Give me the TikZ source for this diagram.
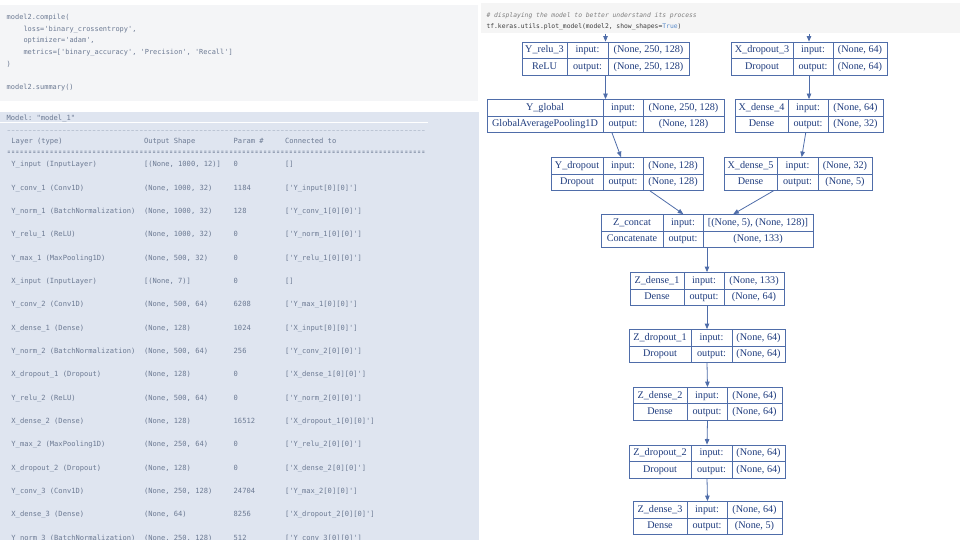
\documentclass[tikz,border=0pt]{standalone}
\usepackage{fontspec}
\usepackage{graphicx}
\setmainfont{Liberation Serif}
\setmonofont{DejaVu Sans Mono}
\usetikzlibrary{arrows.meta}
\definecolor{cellbg}{HTML}{F4F5F7}
\definecolor{rcellbg}{HTML}{F5F5F5}
\definecolor{tablebg}{HTML}{DFE5F0}
\definecolor{codetext}{HTML}{6C7A93}
\definecolor{boxline}{HTML}{4F6DA9}
\definecolor{boxtext}{HTML}{1F3C7E}
\definecolor{commentgray}{HTML}{7E7E7E}
\definecolor{codedark}{HTML}{3C3C3C}
\definecolor{kwblue}{HTML}{5A8CCB}
\ExplSyntaxOn
\cs_new:Npn \myrepeat #1#2 { \prg_replicate:nn {#1} {#2} }
\ExplSyntaxOff
\newcommand\gapchar[1]{\makebox[0.602em]{\scalebox{0.62}[1]{#1}}}
\tikzset{
  mono/.style={font=\ttfamily\fontsize{7.1}{8}\selectfont, text=codetext, inner sep=0pt, anchor=base west},
  code/.style={font=\ttfamily\fontsize{6.95}{8}\selectfont, text=codetext, inner sep=0pt, anchor=base west},
  rcode/.style={font=\ttfamily\fontsize{6.35}{8}\selectfont, text=codedark, inner sep=0pt, anchor=base west},
  kbox/.style={draw=boxline, line width=0.8pt, fill=white, inner sep=0pt},
  kline/.style={draw=boxline, line width=0.8pt},
  ktext/.style={font=\fontsize{10.2}{12}\selectfont, text=boxtext, inner sep=0pt, text height=7pt, text depth=1.8pt},
  karrow/.style={draw=boxline, line width=0.8pt, -{Triangle[length=5.5pt,width=4.5pt]}},
}
\def\kgeom#1,#2,#3,#4,#5,#6\relax{\def\kxl{#1}\def\kda{#2}\def\kdb{#3}\def\kxr{#4}\def\kyt{#5}\def\kyb{#6}}
\newcommand\kerasbox[6]{%
  \kgeom#2\relax
  \pgfmathsetmacro\kw{\kxr-\kxl}%
  \pgfmathsetmacro\kh{\kyb-\kyt}%
  \pgfmathsetmacro\kcx{(\kxl+\kxr)/2}%
  \pgfmathsetmacro\kcy{(\kyt+\kyb)/2}%
  \pgfmathsetmacro\kca{(\kxl+\kda)/2}%
  \pgfmathsetmacro\kcb{(\kda+\kdb)/2}%
  \pgfmathsetmacro\kcc{(\kdb+\kxr)/2}%
  \pgfmathsetmacro\kra{(\kyt+\kcy)/2}%
  \pgfmathsetmacro\krb{(\kcy+\kyb)/2}%
  \node[kbox, minimum width=\kw pt, minimum height=\kh pt] (#1) at (\kcx,\kcy) {};
  \draw[kline] (\kda,\kyt) -- (\kda,\kyb) (\kdb,\kyt) -- (\kdb,\kyb) (\kxl,\kcy) -- (\kxr,\kcy);
  \node[ktext] (#1-name) at (\kca,\kra) {#3};
  \node[ktext] (#1-type) at (\kca,\krb) {#4};
  \node[ktext] (#1-inl) at (\kcb,\kra) {input:};
  \node[ktext] (#1-outl) at (\kcb,\krb) {output:};
  \node[ktext] (#1-in) at (\kcc,\kra) {#5};
  \node[ktext] (#1-out) at (\kcc,\krb) {#6};
}
\newcommand\srow[5]{%
  \pgfmathsetmacro\ry{164.3+23.33*#1+2.5}%
  \node[mono] (r#1a) at (11.27,\ry) {#2};
  \node[mono] (r#1b) at (143.8,\ry) {#3};
  \node[mono] (r#1c) at (233.5,\ry) {#4};
  \node[mono] (r#1d) at (284.8,\ry) {#5};
}
\begin{document}
\begin{tikzpicture}[x=1pt,y=-1pt]
\useasboundingbox (0,0) rectangle (960,540);
\clip (0,0) rectangle (960,540);
% backgrounds
\fill[cellbg] (0,5) rectangle (478,101);
\fill[tablebg] (0,112) rectangle (479,540);
\fill[rcellbg] (481,3) rectangle (960,33);
\draw[white, line width=1.3pt] (0,122.5) -- (428,122.5);
% left code cell
\node[code] (c1) at (6.5,19.5) {model2.compile(};
\node[code] (c2) at (23.3,31.25) {loss='binary\_crossentropy',};
\node[code] (c3) at (23.3,43) {optimizer='adam',};
\node[code] (c4) at (23.3,54.75) {metrics=['binary\_accuracy', 'Precision', 'Recall']};
\node[code] (c5) at (6.5,66.5) {)};
\node[code] (c6) at (6.5,90) {model2.summary()};
% summary table
\node[mono] (m0) at (6.5,120.1) {Model: "model\_1"};
\node[mono] (m1) at (6.5,130) {\myrepeat{98}{\gapchar{\_}}};
\node[mono] (h1) at (11.27,143.5) {Layer (type)};
\node[mono] (h2) at (143.8,143.5) {Output Shape};
\node[mono] (h3) at (233.5,143.5) {Param \#};
\node[mono] (h4) at (284.8,143.5) {Connected to};
\node[mono] (m2) at (6.5,154.8) {\myrepeat{98}{\gapchar{=}}};
\srow{0}{Y\_input (InputLayer)}{[(None, 1000, 12)]}{0}{[]}
\srow{1}{Y\_conv\_1 (Conv1D)}{(None, 1000, 32)}{1184}{['Y\_input[0][0]']}
\srow{2}{Y\_norm\_1 (BatchNormalization)}{(None, 1000, 32)}{128}{['Y\_conv\_1[0][0]']}
\srow{3}{Y\_relu\_1 (ReLU)}{(None, 1000, 32)}{0}{['Y\_norm\_1[0][0]']}
\srow{4}{Y\_max\_1 (MaxPooling1D)}{(None, 500, 32)}{0}{['Y\_relu\_1[0][0]']}
\srow{5}{X\_input (InputLayer)}{[(None, 7)]}{0}{[]}
\srow{6}{Y\_conv\_2 (Conv1D)}{(None, 500, 64)}{6208}{['Y\_max\_1[0][0]']}
\srow{7}{X\_dense\_1 (Dense)}{(None, 128)}{1024}{['X\_input[0][0]']}
\srow{8}{Y\_norm\_2 (BatchNormalization)}{(None, 500, 64)}{256}{['Y\_conv\_2[0][0]']}
\srow{9}{X\_dropout\_1 (Dropout)}{(None, 128)}{0}{['X\_dense\_1[0][0]']}
\srow{10}{Y\_relu\_2 (ReLU)}{(None, 500, 64)}{0}{['Y\_norm\_2[0][0]']}
\srow{11}{X\_dense\_2 (Dense)}{(None, 128)}{16512}{['X\_dropout\_1[0][0]']}
\srow{12}{Y\_max\_2 (MaxPooling1D)}{(None, 250, 64)}{0}{['Y\_relu\_2[0][0]']}
\srow{13}{X\_dropout\_2 (Dropout)}{(None, 128)}{0}{['X\_dense\_2[0][0]']}
\srow{14}{Y\_conv\_3 (Conv1D)}{(None, 250, 128)}{24704}{['Y\_max\_2[0][0]']}
\srow{15}{X\_dense\_3 (Dense)}{(None, 64)}{8256}{['X\_dropout\_2[0][0]']}
\srow{16}{Y\_norm\_3 (BatchNormalization)}{(None, 250, 128)}{512}{['Y\_conv\_3[0][0]']}
% right code cell
\node[rcode, text=commentgray, font=\ttfamily\itshape\fontsize{6.35}{8}\selectfont] (rc1) at (486.3,17.5) {\# displaying the model to better understand its process};
\node[rcode] (rc2) at (486.3,28.9) {tf.keras.utils.plot\_model(model2, show\_shapes={\color{kwblue}True})};
% model diagram
\kerasbox{Yrelu3}{522,567,608,689,42,75}{Y\_relu\_3}{ReLU}{(None, 250, 128)}{(None, 250, 128)}
\kerasbox{Xdrop3}{731,793,833,887,42,75}{X\_dropout\_3}{Dropout}{(None, 64)}{(None, 64)}
\kerasbox{Yglobal}{487,603,643,724,99.5,132.5}{Y\_global}{GlobalAveragePooling1D}{(None, 250, 128)}{(None, 128)}
\kerasbox{Xdense4}{735,788,828,883,99.5,132.5}{X\_dense\_4}{Dense}{(None, 64)}{(None, 32)}
\kerasbox{Ydrop}{551,603,643,703,157.5,190.5}{Y\_dropout}{Dropout}{(None, 128)}{(None, 128)}
\kerasbox{Xdense5}{724,777,818,872,157.5,190.5}{X\_dense\_5}{Dense}{(None, 32)}{(None, 5)}
\kerasbox{Zconcat}{601,663,703,813,214.5,247.5}{Z\_concat}{Concatenate}{[(None, 5), (None, 128)]}{(None, 133)}
\kerasbox{Zdense1}{630,684,724,784,272.5,305.5}{Z\_dense\_1}{Dense}{(None, 133)}{(None, 64)}
\kerasbox{Zdrop1}{629,691,732,785,329.5,362.5}{Z\_dropout\_1}{Dropout}{(None, 64)}{(None, 64)}
\kerasbox{Zdense2}{633,687,727,782,387.5,420}{Z\_dense\_2}{Dense}{(None, 64)}{(None, 64)}
\kerasbox{Zdrop2}{629,691,732,785,445,478}{Z\_dropout\_2}{Dropout}{(None, 64)}{(None, 64)}
\kerasbox{Zdense3}{633,687,727,782,501.5,534.5}{Z\_dense\_3}{Dense}{(None, 64)}{(None, 5)}
% connectors
\coordinate (inY) at (605.5,34);
\coordinate (inX) at (809,34);
\draw[karrow] (inY) -- (Yrelu3.north);
\draw[karrow] (inX) -- (Xdrop3.north);
\draw[karrow] (Yrelu3.south) -- (Yglobal.north);
\draw[karrow] (Xdrop3.south) -- (Xdense4.north);
\draw[karrow] ([xshift=6.5pt]Yglobal.south) -- ([xshift=-6pt]Ydrop.north);
\draw[karrow] ([xshift=-3.3pt]Xdense4.south) -- ([xshift=3.7pt]Xdense5.north);
\draw[karrow] ([xshift=23pt]Ydrop.south) -- ([xshift=-23.7pt]Zconcat.north);
\draw[karrow] ([xshift=-24.7pt]Xdense5.south) -- ([xshift=26.3pt]Zconcat.north);
\draw[karrow] (Zconcat.south) -- (Zdense1.north);
\draw[karrow] (Zdense1.south) -- (Zdrop1.north);
\draw[karrow] (Zdrop1.south) -- (Zdense2.north);
\draw[karrow] (Zdense2.south) -- (Zdrop2.north);
\draw[karrow] (Zdrop2.south) -- (Zdense3.north);
\end{tikzpicture}
\end{document}
